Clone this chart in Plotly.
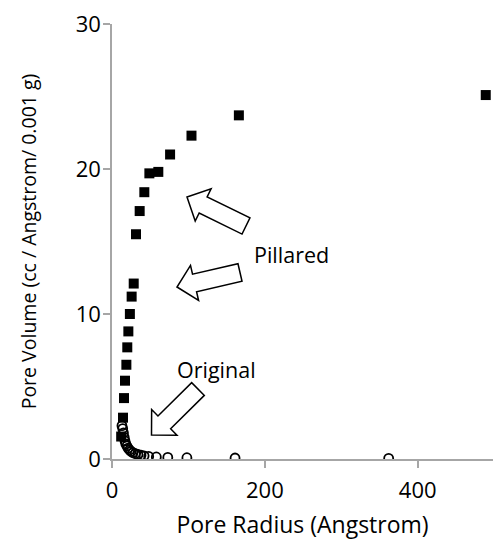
import plotly.graph_objects as go
import math

# ---- data ----
pillared_x = [12, 14.4, 15.7, 17, 18.8, 20, 21.4, 23.4, 25.7, 28.4, 31.4, 36.2, 42.3, 48.9, 60.6, 76, 104, 166, 489]
pillared_y = [1.55, 2.85, 4.2, 5.4, 6.5, 7.7, 8.8, 10.0, 11.2, 12.1, 15.5, 17.1, 18.4, 19.7, 19.8, 21.0, 22.3, 23.7, 25.1]

original_x = [13, 14, 15, 16, 17, 18, 19.5, 21, 23, 25, 27.5, 30.5, 34, 38, 42, 48, 58, 73, 98, 161, 362]
original_y = [2.3, 2.1, 1.8, 1.5, 1.25, 1.05, 0.9, 0.75, 0.62, 0.52, 0.44, 0.37, 0.31, 0.26, 0.22, 0.18, 0.14, 0.11, 0.09, 0.07, 0.05]

x_ticks = [0, 200, 400]
y_ticks = [0, 10, 20, 30]

W, H = 493, 548
L, R, T, B = 112, 0, 24, 89
XMAX, YMAX = 498.5, 30

FONT = "Open Sans"

fig = go.Figure()
fig.add_trace(go.Scatter(x=pillared_x, y=pillared_y, mode="markers", name="Pillared",
                         marker=dict(symbol="square", size=10, color="black")))
fig.add_trace(go.Scatter(x=original_x, y=original_y, mode="markers", name="Original",
                         marker=dict(symbol="circle-open", size=9, color="black",
                                     line=dict(width=1.8, color="black"))))

# pixel -> data helpers for annotation geometry
pw = W - L - R
ph = H - T - B
def px2x(px):
    return (px - L) / pw * XMAX
def py2y(py):
    return (H - B - py) / ph * YMAX

def block_arrow(tip, tail, shaft_w=18, head_w=36, head_l=18):
    tx, ty = tip
    sx, sy = tail
    dx, dy = sx - tx, sy - ty
    n = math.hypot(dx, dy)
    ux, uy = dx / n, dy / n
    vx, vy = -uy, ux
    bx, by = tx + ux * head_l, ty + uy * head_l
    pts = [
        (tx, ty),
        (bx + vx * head_w / 2, by + vy * head_w / 2),
        (bx + vx * shaft_w / 2, by + vy * shaft_w / 2),
        (sx + vx * shaft_w / 2, sy + vy * shaft_w / 2),
        (sx - vx * shaft_w / 2, sy - vy * shaft_w / 2),
        (bx - vx * shaft_w / 2, by - vy * shaft_w / 2),
        (bx - vx * head_w / 2, by - vy * head_w / 2),
    ]
    path = "M " + " L ".join(f"{px2x(x):.3f},{py2y(y):.3f}" for x, y in pts) + " Z"
    return dict(type="path", path=path, xref="x", yref="y", fillcolor="white",
                line=dict(color="black", width=1.5), layer="above")

fig.add_shape(block_arrow((187, 197), (246, 226)))
fig.add_shape(block_arrow((177, 287), (240, 272.5)))
fig.add_shape(block_arrow((151.5, 435), (198, 389)))

fig.add_annotation(x=px2x(291), y=py2y(254), xref="x", yref="y", text="Pillared",
                   showarrow=False, font=dict(family=FONT, size=21.5, color="black"))
fig.add_annotation(x=px2x(216.5), y=py2y(369), xref="x", yref="y", text="Original",
                   showarrow=False, font=dict(family=FONT, size=21.5, color="black"))

axis_common = dict(showgrid=False, zeroline=False, showline=True, linecolor="#a6a6a6",
                   linewidth=1.5, ticks="outside", tickcolor="#a6a6a6", ticklen=7, tickwidth=1.5,
                   tickfont=dict(family=FONT, size=22, color="black"))

fig.update_layout(
    width=W, height=H,
    margin=dict(l=L, r=R, t=T, b=B),
    paper_bgcolor="white", plot_bgcolor="white",
    showlegend=False,
    xaxis=dict(range=[0, XMAX], tickvals=x_ticks, ticktext=[str(v) for v in x_ticks],
               ticklabelstandoff=4,
               title=dict(text="Pore Radius (Angstrom)", font=dict(family=FONT, size=23, color="black"),
                          standoff=14),
               **axis_common),
    yaxis=dict(range=[0, YMAX], tickvals=y_ticks, ticktext=[str(v) for v in y_ticks],
               ticklabelstandoff=-2,
               title=dict(text="Pore Volume (cc / Angstrom/ 0.001 g)",
                          font=dict(family=FONT, size=19.5, color="black"), standoff=34),
               **axis_common),
)

fig.write_html("out.html")
